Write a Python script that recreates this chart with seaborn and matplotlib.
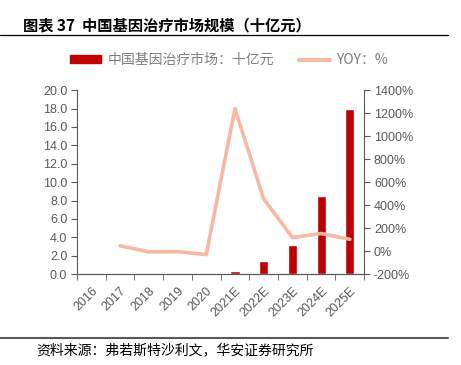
import numpy as np
import pandas as pd
import seaborn as sns
import matplotlib
matplotlib.use("Agg")
from matplotlib import pyplot as plt
from matplotlib.lines import Line2D
from matplotlib.patches import Patch
from matplotlib.ticker import FixedLocator, FuncFormatter

years = ["2016", "2017", "2018", "2019", "2020", "2021E", "2022E", "2023E", "2024E", "2025E"]
market = [np.nan, np.nan, np.nan, np.nan, np.nan, 0.3, 1.45, 3.2, 8.5, 17.9]
yoy = [np.nan, 46, -6, -5, -30, 1240, 454, 118, 153, 103]

bar_color = "#C00000"
line_color = "#F6B9A3"
grey = "#595959"

sns.set_style("white")
plt.rcParams["font.family"] = ["Liberation Sans", "Noto Sans CJK SC", "DejaVu Sans"]

df = pd.DataFrame({"year": years, "market": market, "yoy": yoy})
df["pos"] = np.arange(len(years))

fig = plt.figure(figsize=(4.61, 3.65), dpi=100)
ax = fig.add_axes([0.167, 0.249, 0.623, 0.504])

sns.barplot(data=df, x="pos", y="market", color=bar_color, width=0.32,
            saturation=1, native_scale=True, ax=ax)
ax.set_xlim(-0.5, len(years) - 0.5)
ax.set_ylim(0, 20)
ax.set_yticks(np.arange(0, 20.1, 2))
ax.yaxis.set_major_formatter(FuncFormatter(lambda v, p: f"{v:.1f}"))

ax2 = ax.twinx()
line_df = df.dropna(subset=["yoy"])
sns.lineplot(data=line_df, x="pos", y="yoy", color=line_color, linewidth=2.6, ax=ax2)
ax2.set_ylim(-200, 1400)
ax2.set_yticks(np.arange(-200, 1401, 200))
ax2.yaxis.set_major_formatter(FuncFormatter(lambda v, p: f"{v:.0f}%"))

# category labels at centres, tick marks on the boundaries
ax.set_xticks(df["pos"])
ax.set_xticklabels(years, rotation=45, ha="right", rotation_mode="anchor")
ax.xaxis.set_minor_locator(FixedLocator(np.arange(-0.5, len(years), 1)))
ax.tick_params(axis="x", which="major", length=0, pad=8, labelsize=9, labelcolor=grey)
ax.tick_params(axis="x", which="minor", length=4, color=grey, direction="out", bottom=True)
ax.tick_params(axis="y", length=4, color=grey, direction="out", labelsize=9,
               labelcolor=grey, left=True, pad=3)
ax2.tick_params(axis="y", length=4, color=grey, direction="out", labelsize=9,
                labelcolor=grey, right=True, pad=3)

for a in (ax, ax2):
    a.set_xlabel("")
    a.set_ylabel("")
    a.spines["top"].set_visible(False)
    for s in ("left", "right", "bottom"):
        a.spines[s].set_color(grey)
        a.spines[s].set_linewidth(0.8)
ax.spines["right"].set_visible(False)
ax2.spines["left"].set_visible(False)

handles = [Patch(color=bar_color, label="中国基因治疗市场：十亿元"),
           Line2D([0], [0], color=line_color, linewidth=3, label="YOY：%")]
fig.legend(handles=handles, loc="center", bbox_to_anchor=(0.497, 0.835), ncol=2,
           frameon=False, labelcolor="#7f7f7f", handlelength=2.2,
           handleheight=0.5, columnspacing=1.8, handletextpad=0.5,
           prop={"family": ["Noto Sans CJK SC"], "size": 10})

fig.text(0.05, 0.93, "图表 37  中国基因治疗市场规模（十亿元）", fontsize=11,
         fontweight="bold", ha="left", va="center", color="black",
         family=["Noto Sans CJK SC", "DejaVu Sans"])
fig.add_artist(Line2D([0, 0.972], [0.905, 0.905], color="black", linewidth=0.9))
fig.add_artist(Line2D([0, 0.972], [0.074, 0.074], color=grey, linewidth=1.5))
fig.text(0.078, 0.041, "资料来源：弗若斯特沙利文，华安证券研究所", fontsize=10,
         ha="left", va="center", color="black", family=["Noto Sans CJK SC"])

fig.savefig("out.png", dpi=100)
